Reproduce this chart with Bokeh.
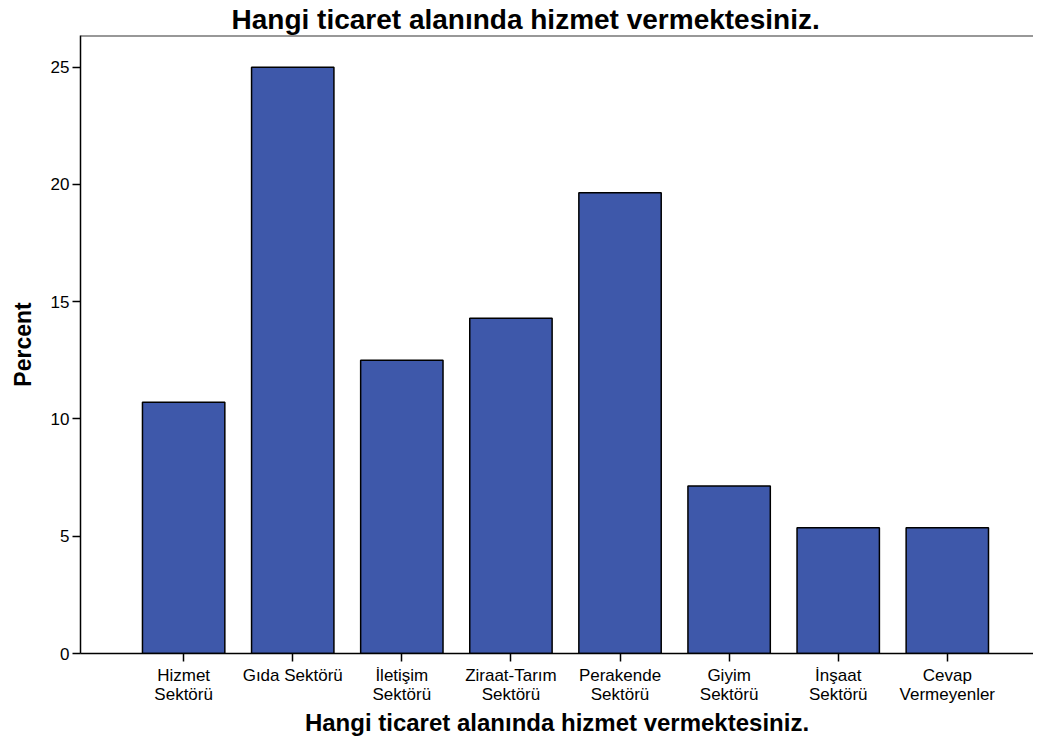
from bokeh.plotting import figure
from bokeh.models import Span, FixedTicker, ColumnDataSource
from bokeh.embed import file_html
from bokeh.resources import INLINE

categories = ["Hizmet\nSektörü", "Gıda Sektörü", "İletişim\nSektörü", "Ziraat-Tarım\nSektörü",
              "Perakende\nSektörü", "Giyim\nSektörü", "İnşaat\nSektörü", "Cevap\nVermeyenler"]
percent = [10.71, 25.0, 12.5, 14.29, 19.64, 7.14, 5.36, 5.36]
y_ticks = [0, 5, 10, 15, 20, 25]

xs = list(range(1, len(categories) + 1))
src = ColumnDataSource(dict(x=xs, top=percent))

FONT = "Liberation Sans"
title_text = "Hangi ticaret alanında hizmet vermektesiniz."

X0, X1 = 0.0545, 8.79
Y1 = 26.35
p = figure(width=1033, height=738, output_backend="svg", toolbar_location=None,
           x_range=(X0, X1), y_range=(0, Y1),
           title=title_text, min_border_left=80, min_border_right=0,
           min_border_top=28, min_border_bottom=80)

p.vbar(x="x", top="top", width=0.755, source=src, fill_color="#3E58AA",
       line_color="black", line_width=1.5)

p.title.align = "left"
p.title.offset = 151
p.title.standoff = 2
p.title.text_font = FONT
p.title.text_font_size = "28px"
p.title.text_font_style = "bold"
p.title.text_color = "black"

p.outline_line_color = None
p.grid.visible = False
p.background_fill_color = "white"
p.border_fill_color = "white"

p.add_layout(Span(location=Y1, dimension="width", line_color="#333333", line_width=2))

p.xaxis.ticker = FixedTicker(ticks=xs)
p.xaxis.major_label_overrides = {i: c for i, c in zip(xs, categories)}
p.xaxis.axis_label = title_text
p.yaxis.ticker = FixedTicker(ticks=y_ticks)
p.yaxis.axis_label = "Percent"

for ax in (p.xaxis[0], p.yaxis[0]):
    ax.axis_line_color = "black"
    ax.axis_line_width = 1.5
    ax.major_tick_line_color = "black"
    ax.major_tick_line_width = 1.5
    ax.major_tick_in = 0
    ax.minor_tick_line_color = None
    ax.major_label_text_font = FONT
    ax.major_label_text_color = "black"
    ax.axis_label_text_font = FONT
    ax.axis_label_text_font_style = "bold"
    ax.axis_label_text_color = "black"

p.xaxis.major_label_text_font_size = "17px"
p.xaxis.major_label_text_line_height = 1.0
p.yaxis.major_label_text_font_size = "17px"
p.xaxis.axis_label_text_font_size = "24px"
p.yaxis.axis_label_text_font_size = "23px"
p.xaxis.major_tick_out = 8
p.yaxis.major_tick_out = 8
p.xaxis.major_label_standoff = 4
p.yaxis.major_label_standoff = 3
p.xaxis.axis_label_standoff = 2
p.yaxis.axis_label_standoff = 12

open("out.html", "w").write(file_html(p, INLINE))
